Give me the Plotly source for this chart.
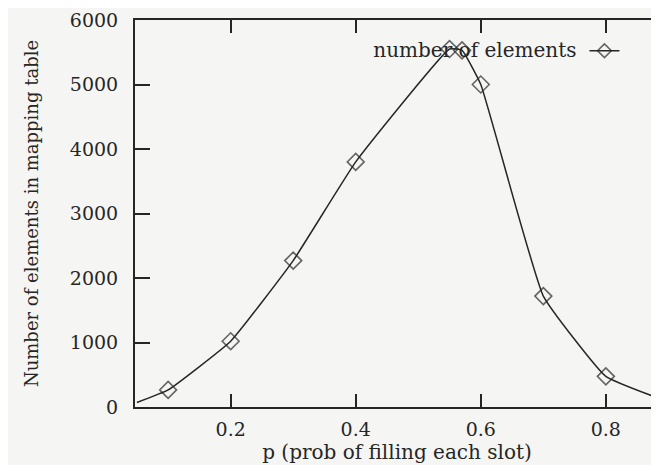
import plotly.graph_objects as go

# data
p_values = [0.05, 0.1, 0.2, 0.3, 0.4, 0.55, 0.57, 0.6, 0.7, 0.8, 0.9]
n_elements = [70, 265, 1020, 2270, 3800, 5550, 5530, 5000, 1720, 475, 80]
marker_sizes = [0, 13, 13, 13, 13, 13, 13, 13, 13, 13, 0]
x_ticks = [0.2, 0.4, 0.6, 0.8]
y_ticks = [0, 1000, 2000, 3000, 4000, 5000, 6000]
series_name = "number of elements"

ink = "#262626"
font_family = "DejaVu Serif"

fig = go.Figure()
fig.add_trace(go.Scatter(
    x=p_values, y=n_elements, name="",
    mode="lines+markers",
    line=dict(color=ink, width=1.5, shape="spline", smoothing=0.35),
    marker=dict(symbol="diamond-open", size=marker_sizes, color=ink,
                line=dict(width=1.6, color=ink)),
    cliponaxis=True,
))

fig.update_layout(
    width=651, height=457,
    margin=dict(l=127, r=0, t=11.5, b=58.3, autoexpand=False),
    paper_bgcolor="#f5f5f3", plot_bgcolor="#f5f5f3",
    font=dict(family=font_family, color=ink, size=19),
    showlegend=True,
    legend=dict(
        x=0.451, y=0.971, xanchor="left", yanchor="top",
        bgcolor="rgba(0,0,0,0)",
        title=dict(text=series_name, side="left", font=dict(size=20, family=font_family)),
        font=dict(size=20, family=font_family),
        itemsizing="trace",
    ),
    xaxis=dict(
        range=[0.047, 0.885], tickvals=x_ticks, ticktext=[f"{v:.1f}" for v in x_ticks],
        ticks="inside", ticklen=13, tickwidth=2, tickcolor=ink,
        showline=True, linewidth=2, linecolor=ink, mirror="ticks",
        showgrid=False, zeroline=False, automargin=False,
        tickfont=dict(size=19), ticklabelstandoff=4,
        title=dict(text="p (prob of filling each slot)", font=dict(size=20), standoff=6),
    ),
    yaxis=dict(
        range=[0, 6000], tickvals=y_ticks,
        ticks="inside", ticklen=15, tickwidth=2, tickcolor=ink,
        showline=True, linewidth=2, linecolor=ink, mirror=False,
        showgrid=False, zeroline=False, automargin=False,
        tickfont=dict(size=19),
        ticklabelstandoff=11,
        title=dict(text="Number of elements in mapping table", font=dict(size=18), standoff=27),
    ),
    yaxis2=dict(
        range=[0, 6000], tickvals=y_ticks, overlaying="y", side="right", anchor="x",
        ticks="inside", ticklen=4, tickwidth=2, tickcolor=ink, automargin=False,
        showticklabels=False, showline=False, showgrid=False, zeroline=False,
    ),
)

fig.write_html("out.html")
